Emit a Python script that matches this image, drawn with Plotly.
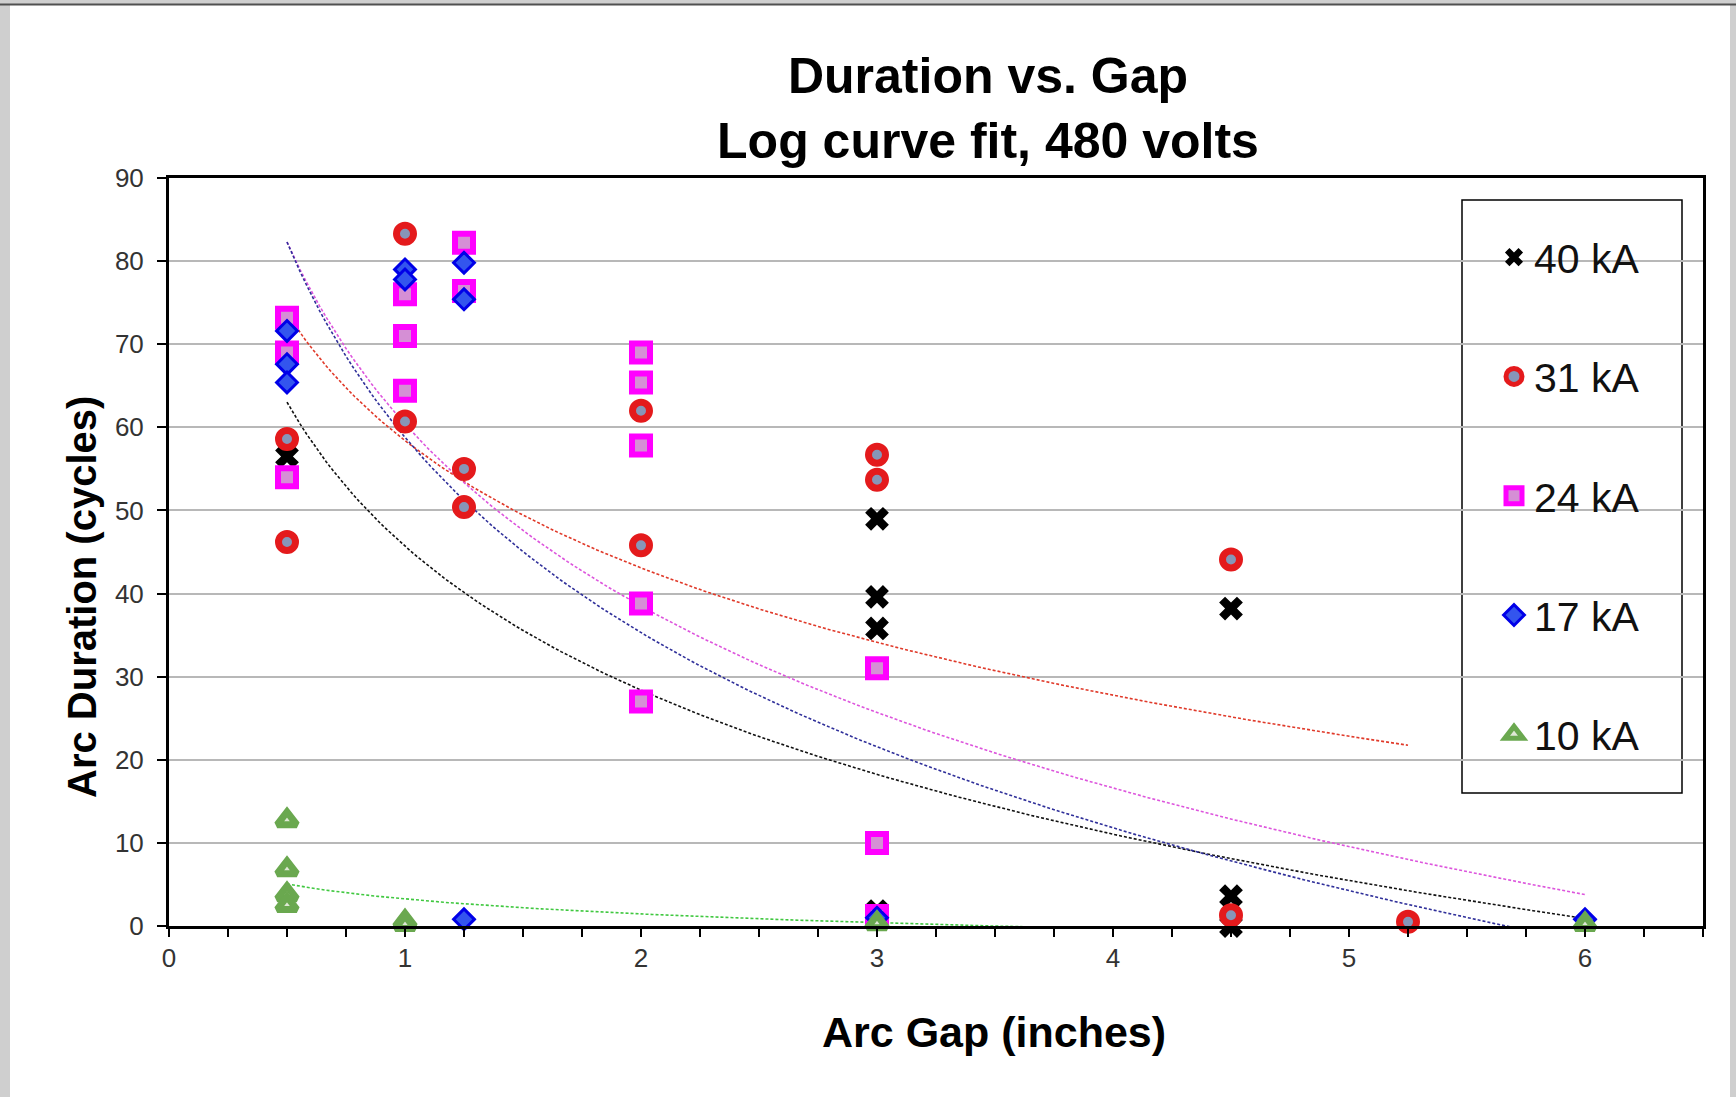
import numpy as np
import plotly.graph_objects as go

# ---- data (x = arc gap in inches, y = arc duration in cycles)
x_40 = [0.5, 3, 3, 3, 3, 4.5, 4.5, 4.5]
y_40 = [56.5, 49.0, 39.6, 35.8, 1.8, 38.2, 3.6, 0.0]

x_31 = [0.5, 0.5, 1, 1, 1.25, 1.25, 2, 2, 3, 3, 4.5, 4.5, 5.25]
y_31 = [58.6, 46.2, 83.3, 60.7, 55.0, 50.4, 62.0, 45.8, 56.7, 53.7, 44.1, 1.3, 0.5]

x_24 = [0.5, 0.5, 0.5, 1, 1, 1, 1.25, 1.25, 2, 2, 2, 2, 2, 3, 3, 3]
y_24 = [73.2, 69.0, 54.0, 76.0, 71.0, 64.4, 82.2, 76.4, 69.0, 65.4, 57.8, 38.8, 27.0, 31.0, 10.0, 1.2]

x_17 = [0.5, 0.5, 0.5, 1, 1, 1.25, 1.25, 1.25, 3, 6]
y_17 = [71.6, 67.6, 65.4, 79.0, 77.8, 79.8, 75.4, 0.8, 1.0, 0.8]

x_10 = [0.5, 0.5, 0.5, 0.5, 1, 1, 3, 6]
y_10 = [12.7, 6.8, 3.8, 2.5, 0.5, 0.2, 0.3, 0.2]

# log trendlines y = a*ln(x) + b
fit_a = {"40": -25.0, "31": -22.1, "24": -31.6, "17": -33.9, "10": -2.6}
fit_b = {"40": 45.7, "31": 58.4, "24": 60.4, "17": 58.8, "10": 3.25}
fit_xmax = {"40": 6, "31": 5.25, "24": 6, "17": 6, "10": 6}

W, H = 1736, 1097
L, R, T, B = 169, 1703, 178, 926   # plot area in pixels


def px(xp):
    return (xp - L) / (R - L)


def py(yp):
    return (B - yp) / (B - T)


fig = go.Figure()

# trendlines first so the markers sit on top
line_col = {"40": "#111111", "31": "#e03a2a", "24": "#dd55dd", "17": "#30309a", "10": "#40c840"}
for k in ["40", "31", "24", "17", "10"]:
    xs = np.linspace(0.5, fit_xmax[k], 200)
    ys = fit_a[k] * np.log(xs) + fit_b[k]
    fig.add_trace(go.Scatter(x=xs, y=ys, mode="lines", showlegend=False, hoverinfo="skip",
                             line=dict(color=line_col[k], width=1.6, dash="3px,2px")))

series = [
    ("40 kA", x_40, y_40, dict(symbol="x", size=21, color="black", line=dict(width=0))),
    ("31 kA", x_31, y_31, dict(symbol="circle", size=17, color="#8796b8",
                              line=dict(color="#e41a1c", width=7))),
    ("24 kA", x_24, y_24, dict(symbol="square", size=18, color="#d58fd5",
                              line=dict(color="#ff00ff", width=6))),
    ("17 kA", x_17, y_17, dict(symbol="diamond", size=16, color="#3355ee",
                              line=dict(color="#0000e8", width=3))),
    ("10 kA", x_10, y_10, dict(symbol="triangle-up", size=17, color="#dfe8d5",
                              line=dict(color="#6aa84f", width=7))),
]
for name, xs, ys, mk in series:
    fig.add_trace(go.Scatter(x=xs, y=ys, mode="markers", name=name, marker=mk,
                             cliponaxis=False, legendgroup=name))

fig.update_layout(
    width=W, height=H,
    margin=dict(l=L, r=W - R, t=T, b=H - B),
    paper_bgcolor="white", plot_bgcolor="white",
    font=dict(family="Liberation Sans, Arial, sans-serif", color="#222"),
    title=dict(text="<b>Duration vs. Gap<br>Log curve fit, 480 volts</b>",
               x=988 / W, xanchor="center", xref="container",
               y=1 - 93 / H, yanchor="top", yref="container",
               font=dict(size=50, color="black")),
    showlegend=True,
    legend=dict(x=px(1494), y=py(224), xanchor="left", yanchor="top",
                bgcolor="rgba(0,0,0,0)", borderwidth=0,
                font=dict(size=41, color="#111"), itemsizing="trace",
                tracegroupgap=63),
)

fig.update_xaxes(range=[0, 6.5], dtick=1, tick0=0, showgrid=False, zeroline=False,
                 showline=True, linecolor="black", linewidth=3, mirror=True,
                 ticks="outside", ticklen=8, tickwidth=2, tickcolor="black",
                 minor=dict(dtick=0.25, ticks="outside", ticklen=8, tickwidth=2, tickcolor="black"),
                 tickfont=dict(size=26, color="#333"), ticklabelstandoff=-1)
fig.update_yaxes(range=[0, 90], dtick=10, showgrid=True, gridcolor="#b8b8b8", gridwidth=1.5,
                 zeroline=False, showline=True, linecolor="black", linewidth=3, mirror=True,
                 ticks="outside", ticklen=9, tickwidth=2, tickcolor="black",
                 tickfont=dict(size=26, color="#333"), ticklabelstandoff=8)

# axis titles
fig.add_annotation(text="<b>Arc Gap (inches)</b>", x=px(994), y=py(1032), xref="paper", yref="paper",
                   xanchor="center", yanchor="middle", showarrow=False,
                   font=dict(size=43, color="black"))
fig.add_annotation(text="<b>Arc Duration (cycles)</b>", x=px(82), y=py(597), xref="paper", yref="paper",
                   xanchor="center", yanchor="middle", showarrow=False, textangle=-90,
                   font=dict(size=40, color="black"))

# legend frame and the grey window edges of the screenshot
fig.add_shape(type="rect", xref="paper", yref="paper", x0=px(1462), x1=px(1682), y0=py(793), y1=py(200),
              line=dict(color="black", width=1.5), fillcolor="white", layer="below")
fig.add_shape(type="rect", xref="paper", yref="paper", x0=px(0), x1=px(10), y0=py(H), y1=py(0),
              line=dict(width=0), fillcolor="#cfcfcf")
fig.add_shape(type="rect", xref="paper", yref="paper", x0=px(1730), x1=px(W), y0=py(H), y1=py(0),
              line=dict(width=0), fillcolor="#cfcfcf")
fig.add_shape(type="rect", xref="paper", yref="paper", x0=px(0), x1=px(W), y0=py(4), y1=py(0),
              line=dict(width=0), fillcolor="#cfcfcf")
fig.add_shape(type="line", xref="paper", yref="paper", x0=px(0), x1=px(W), y0=py(4.5), y1=py(4.5),
              line=dict(color="#505050", width=2))

fig.write_html("out.html", config={"displayModeBar": False},
               post_script="document.body.style.margin='0px'; document.body.style.overflow='hidden';")
